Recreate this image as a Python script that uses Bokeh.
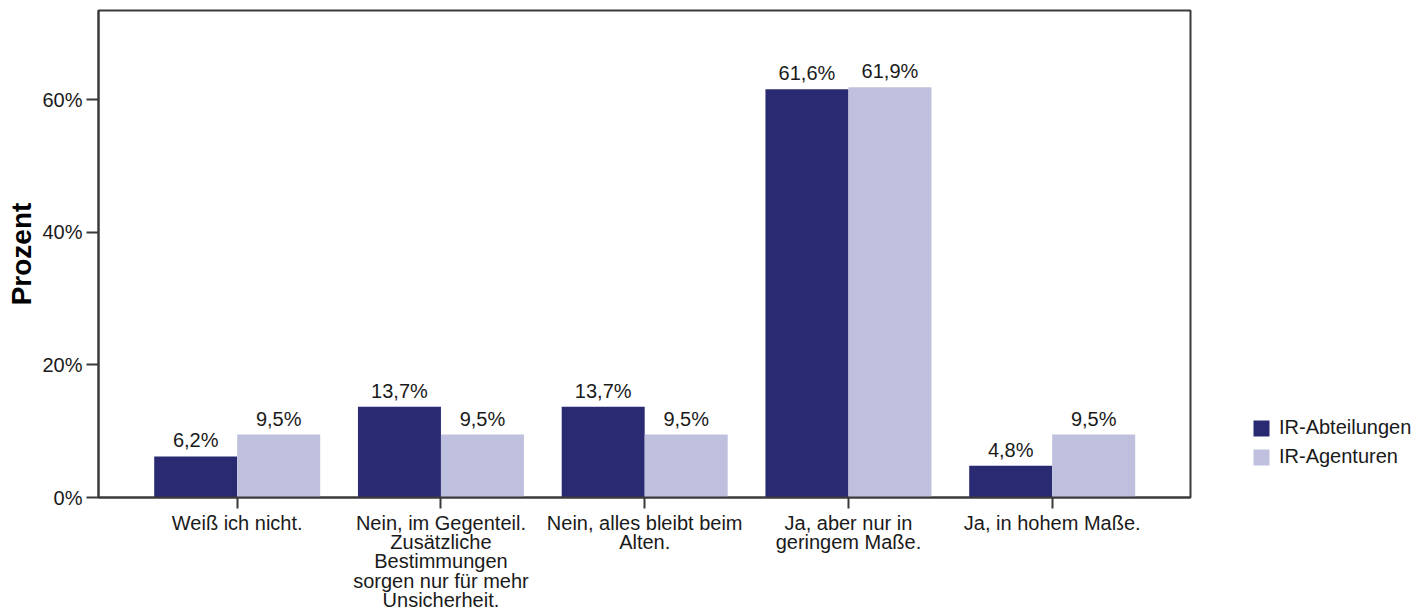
from bokeh.plotting import figure
from bokeh.models import ColumnDataSource, FixedTicker, Legend, LegendItem, Range1d
from bokeh.transform import dodge
from bokeh.core.properties import value
from bokeh.embed import file_html
from bokeh.resources import INLINE

categories = [
    "Weiß ich nicht.",
    "Nein, im Gegenteil.\nZusätzliche\nBestimmungen\nsorgen nur für mehr\nUnsicherheit.",
    "Nein, alles bleibt beim\nAlten.",
    "Ja, aber nur in\ngeringem Maße.",
    "Ja, in hohem Maße.",
]
series = ["IR-Abteilungen", "IR-Agenturen"]
abteilungen = [6.2, 13.7, 13.7, 61.6, 4.8]
agenturen = [9.5, 9.5, 9.5, 61.9, 9.5]
y_ticks = [0, 20, 40, 60]
y_tick_labels = ["0%", "20%", "40%", "60%"]

FONT = "Liberation Sans"
DARK = "#292a72"
LIGHT = "#bfc0de"
AX = "#3a3a3a"

def fmt(v):
    return ("%.1f%%" % v).replace(".", ",")

src = ColumnDataSource(dict(
    x=list(range(len(categories))),
    a=abteilungen,
    b=agenturen,
    la=[fmt(v) for v in abteilungen],
    lb=[fmt(v) for v in agenturen],
))

unit_px = 203.75
frame_w = 1092
frame_h = 487
x_start = -138.7 / unit_px
x_end = x_start + frame_w / unit_px
bw = 83.0 / unit_px
off = bw / 2

p = figure(frame_width=frame_w, frame_height=frame_h, output_backend="svg", toolbar_location=None,
           x_range=Range1d(x_start, x_end), y_range=Range1d(0, 73.5),
           min_border_left=98, min_border_right=224, min_border_top=10, min_border_bottom=115)

r1 = p.vbar(x=dodge("x", -off), top="a", width=bw, source=src, fill_color=DARK, line_color=None)
r2 = p.vbar(x=dodge("x", off), top="b", width=bw, source=src, fill_color=LIGHT, line_color=None)

p.text(x=dodge("x", -off), y="a", text="la", source=src, text_align="center",
       text_baseline="alphabetic", y_offset=-16, text_font=value(FONT),
       text_font_size="20px", text_color="#1a1a1a")
p.text(x=dodge("x", off), y="b", text="lb", source=src, text_align="center",
       text_baseline="alphabetic", y_offset=-16, text_font=value(FONT),
       text_font_size="20px", text_color="#1a1a1a")

p.xgrid.visible = False
p.ygrid.visible = False
p.outline_line_color = AX
p.outline_line_width = 2
p.background_fill_color = "white"
p.border_fill_color = "white"

xa = p.xaxis[0]
xa.ticker = FixedTicker(ticks=list(range(len(categories))))
xa.major_label_overrides = {i: c for i, c in enumerate(categories)}
xa.major_tick_out = 11
xa.major_tick_in = 0
xa.minor_tick_line_color = None
xa.major_label_standoff = 3
xa.major_label_text_font = FONT
xa.major_label_text_font_size = "20px"
xa.major_label_text_line_height = 0.88
xa.major_label_text_color = "#1a1a1a"
xa.axis_line_color = AX
xa.axis_line_width = 2
xa.major_tick_line_color = AX
xa.major_tick_line_width = 2

ya = p.yaxis[0]
ya.ticker = FixedTicker(ticks=y_ticks)
ya.major_label_overrides = {t: l for t, l in zip(y_ticks, y_tick_labels)}
ya.major_tick_out = 12
ya.major_tick_in = 0
ya.minor_tick_line_color = None
ya.major_label_standoff = 4
ya.major_label_text_font = FONT
ya.major_label_text_font_size = "20px"
ya.major_label_text_color = "#1a1a1a"
ya.axis_line_color = AX
ya.axis_line_width = 2
ya.major_tick_line_color = AX
ya.major_tick_line_width = 2
ya.axis_label = "Prozent"
ya.axis_label_text_font = FONT
ya.axis_label_text_font_style = "bold"
ya.axis_label_text_font_size = "28px"
ya.axis_label_standoff = 2
ya.axis_label_text_color = "#000000"

legend = Legend(items=[LegendItem(label=series[0], renderers=[r1]),
                       LegendItem(label=series[1], renderers=[r2])],
                location=(61, 29), glyph_width=20, glyph_height=20, label_height=20,
                spacing=6, padding=0, margin=0, border_line_color=None,
                background_fill_alpha=0, label_text_font=FONT, label_text_font_size="20px",
                label_standoff=8, label_text_color="#1a1a1a")
p.add_layout(legend, "right")

open("out.html", "w").write(file_html(p, INLINE))
